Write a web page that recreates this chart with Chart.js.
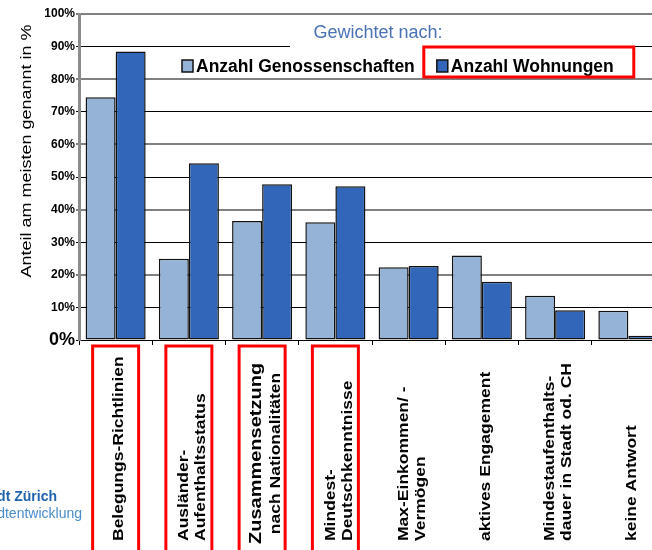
<!DOCTYPE html>
<html>
<head>
<meta charset="utf-8">
<script src="https://cdn.jsdelivr.net/npm/chart.js@4.4.1/dist/chart.umd.min.js"></script>
<style>
  html, body { margin: 0; padding: 0; background: #fff; overflow: hidden; width: 652px; height: 550px; }
  canvas { display: block; }
</style>
</head>
<body>
<canvas id="chart" width="670" height="550"></canvas>
<script>
// Criteria for allocating flats, share of mentions (in %)
const categories = [
  ['Belegungs-Richtlinien'],
  ['Ausländer-', 'Aufenthaltsstatus'],
  ['Zusammensetzung', 'nach Nationalitäten'],
  ['Mindest-', 'Deutschkenntnisse'],
  ['Max-Einkommen/ -', 'Vermögen'],
  ['aktives Engagement'],
  ['Mindestaufenthalts-', 'dauer in Stadt od. CH'],
  ['keine Antwort']
];
const seriesNames = ['Anzahl Genossenschaften', 'Anzahl Wohnungen'];
const byCooperatives = [74.5, 24.9, 36.5, 36.1, 22.3, 25.9, 13.6, 9.0];
const byDwellings = [88.5, 54.2, 47.8, 47.2, 22.7, 17.9, 9.1, 1.3];
const yTickValues = [0, 10, 20, 30, 40, 50, 60, 70, 80, 90, 100];
const legendTitle = 'Gewichtet nach:';
const yAxisTitle = 'Anteil am meisten genannt in %';
const highlightedCategories = [0, 1, 2, 3];
const highlightedSeries = 1;
const logoLines = ['Stadt Zürich', 'Stadtentwicklung'];

const FONT = '"Liberation Sans", Arial, Helvetica, sans-serif';
const LIGHT = '#95B3D7';
const DARK = '#3166B8';
const RED = '#FF0000';

// Legend with title, item boxes and highlight frame, drawn inside the plot
const legendPlugin = {
  id: 'innerLegend',
  afterDraw(chart) {
    const ctx = chart.ctx;
    ctx.save();
    // title with a white backing that interrupts the grid line
    ctx.fillStyle = '#fff';
    ctx.fillRect(290, 20, 177, 29);
    ctx.font = '18px ' + FONT;
    ctx.fillStyle = '#4A72B5';
    ctx.textAlign = 'center';
    ctx.textBaseline = 'middle';
    ctx.fillText(legendTitle, 378, 33);

    ctx.font = 'bold 17.5px ' + FONT;
    ctx.textAlign = 'left';
    let x = 182;
    const y = 66;
    chart.data.datasets.forEach((ds, i) => {
      ctx.fillStyle = ds.backgroundColor;
      ctx.fillRect(x, y - 6, 11, 12);
      ctx.strokeStyle = '#111';
      ctx.lineWidth = 1.5;
      ctx.strokeRect(x, y - 6, 11, 12);
      ctx.fillStyle = '#000';
      ctx.fillText(ds.label, x + 14, y + 1);
      const w = ctx.measureText(ds.label).width;
      if (i === highlightedSeries) {
        ctx.strokeStyle = RED;
        ctx.lineWidth = 3;
        ctx.strokeRect(x - 13, 47, w + 14 + 13 + 20, 30);
      }
      x += 14 + w + 22;
    });
    ctx.restore();
  }
};

// Rotated category labels below the axis, with red frames on highlighted ones
const categoryLabelPlugin = {
  id: 'categoryLabels',
  afterDraw(chart) {
    const ctx = chart.ctx;
    const xs = chart.scales.x;
    const baseY = 541;
    ctx.save();
    highlightedCategories.forEach(i => {
      const cx = xs.getPixelForValue(i);
      ctx.strokeStyle = RED;
      ctx.lineWidth = 3;
      ctx.strokeRect(cx - 23, 346, 46, 230);
    });
    categories.forEach((lines, i) => {
      const cx = xs.getPixelForValue(i) + 4;
      const emphasised = i === 2;
      const gap = emphasised ? 20 : 17;
      const n = lines.length;
      let anchorY = baseY;
      if (emphasised) {
        ctx.font = 'bold 20px ' + FONT;
        anchorY = baseY + 3 - ctx.measureText(lines[0]).width / 2;
      }
      lines.forEach((line, j) => {
        const size = emphasised && j === 0 ? 20 : 17.5;
        const lx = cx + (j - (n - 1) / 2) * gap;
        ctx.save();
        ctx.translate(lx, anchorY);
        ctx.rotate(-Math.PI / 2);
        ctx.scale(1, 0.8);
        ctx.font = 'bold ' + size + 'px ' + FONT;
        ctx.fillStyle = '#000';
        ctx.textBaseline = 'middle';
        ctx.textAlign = emphasised ? 'center' : 'left';
        ctx.fillText(line, 0, 0);
        ctx.restore();
      });
    });

    // vertical axis title
    ctx.save();
    ctx.translate(27, 151);
    ctx.rotate(-Math.PI / 2);
    ctx.scale(1, 0.8);
    ctx.font = '18px ' + FONT;
    ctx.fillStyle = '#000';
    ctx.textAlign = 'center';
    ctx.textBaseline = 'middle';
    ctx.fillText(yAxisTitle, 0, 0);
    ctx.restore();

    // department name in the lower left corner
    ctx.textAlign = 'right';
    ctx.textBaseline = 'middle';
    ctx.font = 'bold 14px ' + FONT;
    ctx.fillStyle = '#1F63AE';
    ctx.fillText(logoLines[0], 57, 497);
    ctx.font = '14px ' + FONT;
    ctx.fillStyle = '#4A8BCB';
    ctx.fillText(logoLines[1], 82, 514);
    ctx.restore();
  }
};

new Chart(document.getElementById('chart'), {
  type: 'bar',
  data: {
    labels: categories.map(l => l.join(' ')),
    datasets: [
      { label: seriesNames[0], data: byCooperatives, backgroundColor: LIGHT },
      { label: seriesNames[1], data: byDwellings, backgroundColor: DARK }
    ]
  },
  options: {
    responsive: false,
    devicePixelRatio: 1,
    animation: false,
    layout: { padding: { top: 14, right: 5, left: 0, bottom: 0 } },
    datasets: {
      bar: {
        categoryPercentage: 0.82,
        barPercentage: 1.0,
        borderColor: '#111',
        borderWidth: 1.5,
        borderSkipped: false
      }
    },
    plugins: { legend: { display: false }, tooltip: { enabled: false } },
    scales: {
      x: {
        ticks: { display: false },
        grid: { drawOnChartArea: false, drawTicks: true, tickLength: 5, color: '#000', offset: true },
        border: { color: '#000', width: 1 },
        afterFit(scale) { scale.height = 210; }
      },
      y: {
        min: 0,
        max: 100,
        afterBuildTicks(scale) { scale.ticks = yTickValues.map(v => ({ value: v })); },
        ticks: {
          color: '#000',
          padding: 1,
          callback: v => v + '%',
          font: c => (c.tick && c.tick.value === 0)
            ? { family: FONT, size: 18, weight: 'bold' }
            : { family: FONT, size: 12, weight: 'bold' }
        },
        grid: {
          color: c => (c.tick && c.tick.value % 20 === 0 && c.tick.value !== 0) ? '#808080' : '#000',
          lineWidth: c => (c.tick && c.tick.value % 20 === 0 && c.tick.value !== 0) ? 2 : 1,
          tickColor: '#000',
          tickWidth: 1,
          tickLength: 3
        },
        border: { color: '#8C8C8C', width: 3 },
        afterFit(scale) { scale.width = 79; }
      }
    }
  },
  plugins: [legendPlugin, categoryLabelPlugin]
});
</script>
</body>
</html>
